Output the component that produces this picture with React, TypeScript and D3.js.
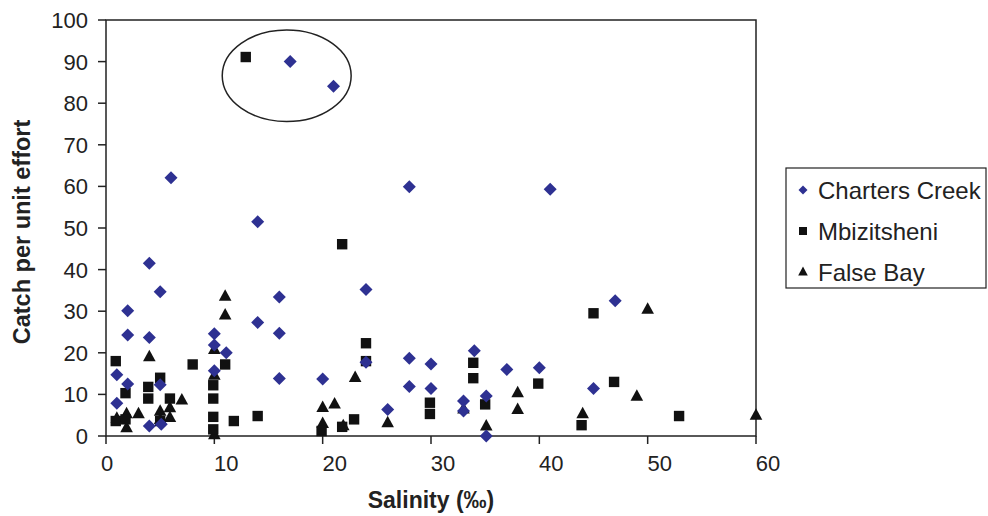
import React from "react";
import * as d3 from "d3";

const xTicks = [0, 10, 20, 30, 40, 50, 60];
const yTicks = [0, 10, 20, 30, 40, 50, 60, 70, 80, 90, 100];
const seriesNames = ["Charters Creek", "Mbizitsheni", "False Bay"];

const chartersCreek: [number, number][] = [
  [1.0, 14.7], [1.0, 7.9], [2.0, 30.1], [2.0, 24.3], [2.0, 12.5], [4.0, 41.5], [4.0, 23.7], [4.0, 2.4],
  [5.0, 34.7], [5.0, 12.3], [5.1, 2.8], [6.0, 62.1], [10.0, 24.6], [10.0, 21.9], [10.0, 15.7], [11.1, 20.0],
  [14.0, 51.5], [14.0, 27.3], [16.0, 33.4], [16.0, 24.7], [16.0, 13.8], [17.0, 90.0], [21.0, 84.1],
  [20.0, 13.7], [24.0, 35.2], [24.0, 17.7], [26.0, 6.4], [28.0, 59.9], [28.0, 18.7], [28.0, 11.9],
  [30.0, 17.3], [30.0, 11.4], [33.0, 8.4], [33.0, 6.0], [34.0, 20.5], [35.1, 9.6], [35.1, 0.0],
  [37.0, 16.0], [40.0, 16.4], [41.0, 59.3], [45.0, 11.4], [47.0, 32.5],
];

const mbizitsheni: [number, number][] = [
  [0.9, 18.0], [0.9, 3.6], [1.8, 10.3], [1.8, 4.0], [3.9, 11.8], [3.9, 9.0], [5.0, 14.0], [5.0, 3.6],
  [5.9, 9.0], [8.0, 17.2], [9.9, 12.2], [9.9, 9.0], [9.9, 4.6], [9.9, 1.6], [11.0, 17.2], [11.8, 3.6],
  [12.9, 91.1], [14.0, 4.8], [19.9, 1.2], [21.8, 46.1], [21.8, 2.2], [22.9, 4.0], [24.0, 22.3],
  [24.0, 18.0], [29.9, 8.0], [29.9, 5.3], [33.9, 17.6], [33.9, 13.9], [35.0, 7.6], [39.9, 12.6],
  [43.9, 2.6], [45.0, 29.5], [46.9, 13.0], [52.9, 4.8],
];

const falseBay: [number, number][] = [
  [1.0, 4.3], [1.9, 5.4], [1.9, 2.0], [3.0, 5.4], [4.0, 19.1], [5.0, 6.0], [5.0, 4.0], [5.9, 6.8],
  [5.9, 4.5], [7.0, 8.7], [10.0, 20.8], [10.0, 14.6], [10.0, 0.3], [11.0, 33.6], [11.0, 29.1],
  [20.0, 6.9], [20.0, 3.0], [21.1, 7.7], [21.9, 2.5], [23.0, 14.1], [26.0, 3.2], [33.0, 6.5],
  [35.1, 2.4], [38.0, 10.4], [38.0, 6.4], [44.0, 5.4], [49.0, 9.6], [50.0, 30.5], [60.0, 5.0],
];

// highlighted group (data units): centre x, centre y, half-width, half-height
const ellipseCenter = [16.68, 86.6];
const ellipseRadii = [5.95, 11.0];

const W = 988;
const H = 516;
const left = 106;
const right = 756;
const top = 20;
const bottom = 436;
const FONT = "Arial, 'Liberation Sans', Helvetica, sans-serif";
const BLUE = "#2e3192";
const BLACK = "#111111";

const x = d3.scaleLinear().domain([0, 60]).range([left, right]);
const y = d3.scaleLinear().domain([0, 100]).range([bottom, top]);

const diamond = (s: number) => `M0,${-s}L${s},0L0,${s}L${-s},0Z`;
const square = (s: number) => `M${-s},${-s}H${s}V${s}H${-s}Z`;
const triangle = (w: number, h: number) => `M0,${-h * 0.6}L${w},${h * 0.4}L${-w},${h * 0.4}Z`;

export default function App() {
  const legendX = 786;
  const legendY = 168;
  const legendItems = [
    { name: seriesNames[0], path: diamond(4.5), fill: BLUE, cy: 190 },
    { name: seriesNames[1], path: square(4), fill: BLACK, cy: 231 },
    { name: seriesNames[2], path: triangle(4.8, 9), fill: BLACK, cy: 272 },
  ];
  return (
    <svg
      width={W}
      height={H}
      style={{ position: "absolute", left: 0, top: 0, background: "#fff" }}
      fontFamily={FONT}
    >
      <rect x={0} y={0} width={W} height={H} fill="#fff" />
      {/* plot frame */}
      <rect x={left} y={top} width={right - left} height={bottom - top} fill="none" stroke="#222" strokeWidth={1.5} />

      {/* y ticks */}
      {yTicks.map((t) => (
        <g key={"y" + t}>
          <line x1={left - 8} x2={left} y1={y(t)} y2={y(t)} stroke="#222" strokeWidth={1.5} />
          <text x={88} y={y(t)} dy="0.36em" textAnchor="end" fontSize={22} fill="#222">
            {t}
          </text>
        </g>
      ))}
      {/* x ticks */}
      {xTicks.map((t) => (
        <g key={"x" + t}>
          <line x1={x(t)} x2={x(t)} y1={bottom} y2={bottom + 8} stroke="#222" strokeWidth={1.5} />
          <text x={x(t) + (t === 0 ? 1 : 12)} y={471} textAnchor="middle" fontSize={22} fill="#222">
            {t}
          </text>
        </g>
      ))}

      {/* axis titles */}
      <text x={(left + right) / 2} y={508} textAnchor="middle" fontSize={23} fontWeight="bold" fill="#222">
        Salinity (‰)
      </text>
      <text
        transform={`translate(30,${(top + bottom) / 2 + 4}) rotate(-90)`}
        textAnchor="middle"
        fontSize={23.5}
        fontWeight="bold"
        fill="#222"
      >
        Catch per unit effort
      </text>

      {/* data */}
      {falseBay.map(([a, b], i) => (
        <path key={"t" + i} d={triangle(6.3, 11.5)} transform={`translate(${x(a)},${y(b)})`} fill={BLACK} />
      ))}
      {mbizitsheni.map(([a, b], i) => (
        <path key={"s" + i} d={square(5.2)} transform={`translate(${x(a)},${y(b)})`} fill={BLACK} />
      ))}
      {chartersCreek.map(([a, b], i) => (
        <path key={"d" + i} d={diamond(6.5)} transform={`translate(${x(a)},${y(b)})`} fill={BLUE} />
      ))}

      {/* ellipse annotation */}
      <ellipse
        cx={x(ellipseCenter[0])}
        cy={y(ellipseCenter[1])}
        rx={x(ellipseRadii[0]) - x(0)}
        ry={y(0) - y(ellipseRadii[1])}
        fill="none"
        stroke="#222"
        strokeWidth={1.5}
      />

      {/* legend */}
      <rect x={legendX} y={legendY} width={200} height={120} fill="#fff" stroke="#222" strokeWidth={1.2} />
      {legendItems.map((it) => (
        <g key={it.name}>
          <path d={it.path} transform={`translate(803,${it.cy})`} fill={it.fill} />
          <text x={818} y={it.cy} dy="0.36em" fontSize={24} fill="#222">
            {it.name}
          </text>
        </g>
      ))}
    </svg>
  );
}
